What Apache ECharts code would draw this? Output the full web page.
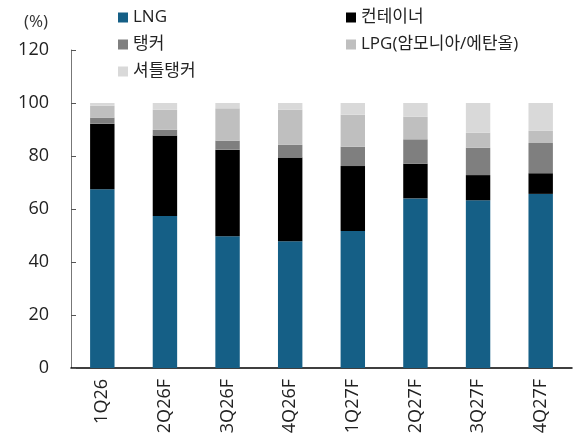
<!DOCTYPE html>
<html lang="ko">
<head>
  <meta charset="UTF-8">
  <title>선종별 비중</title>
  <style type="text/css">
    * { margin: 0; padding: 0; }
    html, body { width: 100%; height: 100%; overflow: hidden; background: #fff; }
    #main { width: 575px; height: 441px; }
  </style>
  <script type="text/javascript" src="https://cdn.jsdelivr.net/npm/echarts@6/dist/echarts.min.js"></script>
</head>
<body>
<div id="main"></div>
<script type="text/javascript">
  var categories = ['1Q26', '2Q26F', '3Q26F', '4Q26F', '1Q27F', '2Q27F', '3Q27F', '4Q27F'];
  var lng       = [67.5, 57.4, 49.7, 47.8, 51.7, 64.0, 63.3, 65.7];
  var container = [24.7, 30.3, 32.7, 31.6, 24.5, 13.1,  9.5,  7.8];
  var tanker    = [ 2.3,  2.2,  3.4,  4.8,  7.3,  9.2, 10.3, 11.4];
  var lpg       = [ 4.5,  7.6, 12.2, 13.3, 12.1,  8.5,  5.7,  4.6];
  var shuttle   = [ 1.0,  2.5,  2.0,  2.5,  4.4,  5.2, 11.2, 10.5];
  var yTicks = { min: 0, max: 120, interval: 20 };

  var font = '"Open Sans", "Noto Sans CJK KR", sans-serif';
  var chart = echarts.init(document.getElementById('main'));

  function bar(name, data, color) {
    return {
      name: name,
      type: 'bar',
      stack: 'total',
      barWidth: '39%',
      data: data,
      itemStyle: { color: color },
      emphasis: { disabled: true }
    };
  }

  var legendText = { fontFamily: font, fontSize: 17, color: '#222' };

  chart.setOption({
    animation: false,
    textStyle: { fontFamily: font },
    graphic: [{
      type: 'text',
      left: 24,
      top: 14,
      style: { text: '(%)', font: '17px ' + font, fill: '#333' }
    }],
    legend: [{
      orient: 'vertical',
      left: 113,
      top: 4,
      itemWidth: 10,
      itemHeight: 10,
      itemGap: 10,
      icon: 'rect',
      textStyle: legendText,
      data: ['LNG', '탱커', '셔틀탱커']
    }, {
      orient: 'vertical',
      left: 341,
      top: 4,
      itemWidth: 10,
      itemHeight: 10,
      itemGap: 10,
      icon: 'rect',
      textStyle: legendText,
      data: ['컨테이너', 'LPG(암모니아/에탄올)']
    }],
    grid: { left: 71, right: 3, top: 50, bottom: 73, containLabel: false },
    xAxis: {
      type: 'category',
      data: categories,
      axisLine: { lineStyle: { color: '#000', width: 1.5 } },
      axisTick: { inside: true, length: 5, lineStyle: { color: '#555' } },
      axisLabel: {
        rotate: 90,
        margin: 11,
        fontSize: 18,
        color: '#222',
        fontFamily: font
      }
    },
    yAxis: {
      type: 'value',
      min: yTicks.min,
      max: yTicks.max,
      interval: yTicks.interval,
      splitLine: { show: false },
      axisLine: { show: true, lineStyle: { color: '#777' } },
      axisTick: { show: true, inside: true, length: 5, lineStyle: { color: '#555' } },
      axisLabel: { fontSize: 18, color: '#222', margin: 22, fontFamily: font }
    },
    series: [
      bar('LNG', lng, '#155f86'),
      bar('컨테이너', container, '#000000'),
      bar('탱커', tanker, '#7f7f7f'),
      bar('LPG(암모니아/에탄올)', lpg, '#bfbfbf'),
      bar('셔틀탱커', shuttle, '#d9d9d9')
    ]
  });
</script>
</body>
</html>
